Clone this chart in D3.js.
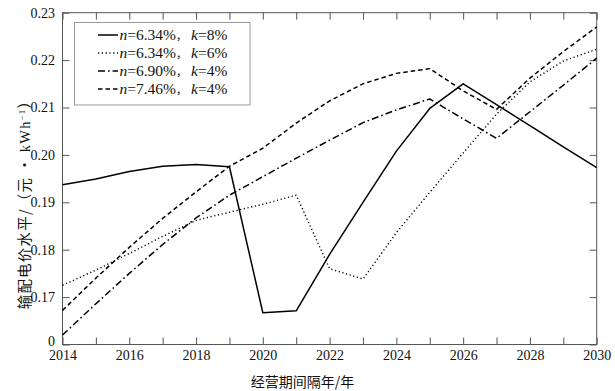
<!DOCTYPE html>
<html>
<head>
<meta charset="utf-8">
<script src="https://cdn.jsdelivr.net/npm/d3@7/dist/d3.min.js"></script>
<style>
  html, body { margin: 0; padding: 0; background: #fff; }
  svg { display: block; }
</style>
</head>
<body>
<svg id="chart" width="615" height="391"></svg>
<script>
// ---- data ----
const years = [2014,2015,2016,2017,2018,2019,2020,2021,2022,2023,2024,2025,2026,2027,2028,2029,2030];
const seriesN = ["6.34%", "6.34%", "6.90%", "7.46%"];
const seriesK = ["8%", "6%", "4%", "4%"];
const solidVals   = [0.1937,0.1949,0.1965,0.1976,0.1980,0.1975,0.1667,0.1671,0.1790,0.1900,0.2008,0.2098,0.2150,0.2106,0.2062,0.2017,0.1973];
const dottedVals  = [0.1725,0.1757,0.1792,0.1828,0.1862,0.1879,0.1896,0.1915,0.1760,0.1738,0.1836,0.1921,0.2004,0.2086,0.2154,0.2198,0.2223];
const dashdotVals = [0.1620,0.1686,0.1750,0.1811,0.1867,0.1915,0.1954,0.1993,0.2031,0.2068,0.2095,0.2118,0.2076,0.2035,0.2091,0.2147,0.2204];
const dashedVals  = [0.1672,0.1740,0.1805,0.1866,0.1922,0.1976,0.2014,0.2067,0.2114,0.2150,0.2172,0.2182,0.2135,0.2096,0.2162,0.2218,0.2270];
const xTickLabels = [2014,2016,2018,2020,2022,2024,2026,2028,2030];
const yTicks = [0.16,0.17,0.18,0.19,0.20,0.21,0.22,0.23];
const yTickLabels = ["0","0.17","0.18","0.19","0.20","0.21","0.22","0.23"];
const xTitle = "经营期间隔年/年";
const yTitleMain = "输配电价水平/（元 · ";
const yTitleUnit = "kWh";
const yTitleSup = "−1";
const yTitleEnd = "）";

// ---- layout ----
const svg = d3.select("#chart");
const L = 62.5, R = 596.7, T = 12.7, B = 344.5;
const xScale = d3.scaleLinear().domain([2014, 2030]).range([L, R]);
const yScale = d3.scaleLinear().domain([0.16, 0.23]).range([B, T]);
const serif = "'Liberation Serif', 'Times New Roman', serif";
const cjk = "'Noto Sans CJK SC', 'Noto Sans', sans-serif";
const axisColor = "#555";

const styles = [
  {dash: null, width: 1.5},
  {dash: "1.2,2.6", width: 1.4},
  {dash: "7,3,1.6,3", width: 1.5},
  {dash: "4.5,3", width: 1.5}
];
const allVals = [solidVals, dottedVals, dashdotVals, dashedVals];

// ---- axes ----
function styleAxis(g) {
  g.attr("font-family", serif).attr("font-size", 14);
  g.select(".domain").remove();
  g.selectAll(".tick line").attr("stroke", axisColor);
  g.selectAll(".tick text").attr("fill", "#111").style("font-family", serif).style("font-size", "14px");
}
const gBottom = svg.append("g").attr("transform", `translate(0,${B})`)
  .call(d3.axisBottom(xScale).tickValues(years).tickSizeInner(-7).tickSizeOuter(0).tickPadding(5.5)
    .tickFormat(d => xTickLabels.includes(d) ? String(d) : ""));
styleAxis(gBottom);
const gTop = svg.append("g").attr("transform", `translate(0,${T})`)
  .call(d3.axisTop(xScale).tickValues(years).tickSizeInner(-7).tickSizeOuter(0).tickFormat(""));
styleAxis(gTop);
const gLeft = svg.append("g").attr("transform", `translate(${L},0)`)
  .call(d3.axisLeft(yScale).tickValues(yTicks).tickSizeInner(-7).tickSizeOuter(0).tickPadding(7.5)
    .tickFormat((d, i) => yTickLabels[i]));
styleAxis(gLeft);
// bottom "0" label sits a little higher so it clears the year labels
gLeft.selectAll(".tick text").filter((d, i) => i === 0).attr("dy", "0.1em");
const gRight = svg.append("g").attr("transform", `translate(${R},0)`)
  .call(d3.axisRight(yScale).tickValues(yTicks).tickSizeInner(-7).tickSizeOuter(0).tickFormat(""));
styleAxis(gRight);

svg.append("rect").attr("x", L).attr("y", T).attr("width", R - L).attr("height", B - T)
  .attr("fill", "none").attr("stroke", axisColor).attr("stroke-width", 1);

// ---- lines ----
const line = d3.line().x((d, i) => xScale(years[i])).y(d => yScale(d));
allVals.forEach((vals, i) => {
  svg.append("path").datum(vals).attr("d", line)
    .attr("fill", "none").attr("stroke", "#000")
    .attr("stroke-width", styles[i].width)
    .attr("stroke-dasharray", styles[i].dash)
    .attr("stroke-linejoin", "round");
});

// ---- legend ----
const lg = svg.append("g");
lg.append("rect").attr("x", 74.5).attr("y", 22.5).attr("width", 175.5).attr("height", 82.5)
  .attr("fill", "#fff").attr("stroke", "#999").attr("stroke-width", 1);
const rowY = [35, 53, 71, 89];
seriesN.forEach((nv, i) => {
  lg.append("line").attr("x1", 98).attr("x2", 118).attr("y1", rowY[i]).attr("y2", rowY[i])
    .attr("stroke", "#000").attr("stroke-width", styles[i].width)
    .attr("stroke-dasharray", styles[i].dash);
  const t = lg.append("text").attr("x", 119.5).attr("y", rowY[i] + 5)
    .style("font-family", serif).style("font-size", "15.5px").attr("fill", "#111");
  t.append("tspan").style("font-style", "italic").text("n");
  t.append("tspan").text("=" + nv);
  t.append("tspan").style("font-family", cjk).style("font-size", "11px").text("，");
  t.append("tspan").attr("dx", 4).style("font-style", "italic").text("k");
  t.append("tspan").text("=" + seriesK[i]);
});

// ---- titles ----
svg.append("text").attr("x", 302.5).attr("y", 387)
  .attr("text-anchor", "middle").style("font-family", cjk).style("font-size", "14px")
  .attr("fill", "#111").text(xTitle);

const yt = svg.append("text").attr("transform", "translate(29.5,201) rotate(-90)")
  .attr("text-anchor", "middle").style("font-family", cjk).style("font-size", "14.5px")
  .style("letter-spacing", "1.2px").attr("fill", "#111");
yt.append("tspan").text(yTitleMain);
yt.append("tspan").style("font-family", serif).text(yTitleUnit);
yt.append("tspan").style("font-family", serif).style("font-size", "9px").attr("dy", "-5").text(yTitleSup);
yt.append("tspan").attr("dy", "5").text(yTitleEnd);
</script>
</body>
</html>
